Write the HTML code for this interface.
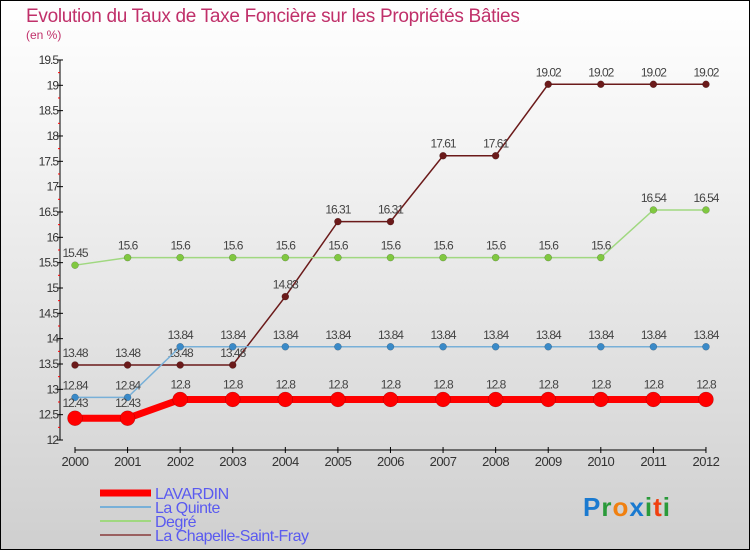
<!DOCTYPE html>
<html><head><meta charset="utf-8"><style>
body{margin:0}
#c{width:750px;height:550px;position:relative;box-sizing:border-box;border:1px solid #000;background:linear-gradient(#fff,#f2f2f2 30%,#cfcfcf);font-family:"Liberation Sans",sans-serif;overflow:hidden}
</style></head><body>
<div id="c">
<svg id="s" width="750" height="550" style="position:absolute;left:-1px;top:-1px"></svg>
</div>
<script>
const years=["2000","2001","2002","2003","2004","2005","2006","2007","2008","2009","2010","2011","2012"];
const lavardin=[12.43,12.43,12.8,12.8,12.8,12.8,12.8,12.8,12.8,12.8,12.8,12.8,12.8];
const quinte=[12.84,12.84,13.84,13.84,13.84,13.84,13.84,13.84,13.84,13.84,13.84,13.84,13.84];
const degre=[15.45,15.6,15.6,15.6,15.6,15.6,15.6,15.6,15.6,15.6,15.6,16.54,16.54];
const chapelle=[13.48,13.48,13.48,13.48,14.83,16.31,16.31,17.61,17.61,19.02,19.02,19.02,19.02];
const yTicks=[12,12.5,13,13.5,14,14.5,15,15.5,16,16.5,17,17.5,18,18.5,19,19.5];
const legendNames=["LAVARDIN","La Quinte","Degré","La Chapelle-Saint-Fray"];
const s=document.getElementById('s');const NS="http://www.w3.org/2000/svg";
function el(t,a,p){const e=document.createElementNS(NS,t);for(const k in a)e.setAttribute(k,a[k]);(p||s).appendChild(e);return e;}
const X=i=>75+i*52.58, Y=v=>440-(v-12)*50.67;
let t=el('text',{x:26,y:22,fill:'#c0306a','font-size':19,'letter-spacing':'-0.3'});t.textContent="Evolution du Taux de Taxe Foncière sur les Propriétés Bâties";

t=el('text',{x:26,y:39,fill:'#c0306a','font-size':12});t.textContent="(en %)";

let a=el('line',{x1:60,y1:60,x2:60,y2:440,stroke:'#000'});
yTicks.forEach((v,i)=>{el('line',{x1:57,x2:63,y1:Y(v),y2:Y(v),stroke:'#000'});
 if(i<yTicks.length-1)el('line',{x1:58,x2:60,y1:Y(v+0.25),y2:Y(v+0.25),stroke:'#f00'});
 const tt=el('text',{x:58,y:Y(v)+4,'text-anchor':'end','font-size':12,fill:'#333','letter-spacing':'-1'});tt.textContent=v;
 });
a=el('line',{x1:75,y1:450,x2:X(12),y2:450,stroke:'#000'});
years.forEach((y,i)=>{el('line',{x1:X(i),x2:X(i),y1:447,y2:453,stroke:'#000'});
 const tt=el('text',{x:X(i),y:466,'text-anchor':'middle','font-size':13,fill:'#333','letter-spacing':'-0.5'});tt.textContent=y;
 });
const series=[[chapelle,'#6b1a1a','#6b1a1a',1.5,3.5,'chapelle'],[degre,'#a0d880','#80c840',1.5,3.5,'degre'],[quinte,'#78b0d8','#3a8ac8',1.5,3.5,'la-quinte'],[lavardin,'#f00','#f00',7,7.5,'lavardin']];
series.forEach(([d,lc,pc,w,r,n])=>{
 const g=el('g',{});
 el('polyline',{points:d.map((v,i)=>X(i)+','+Y(v)).join(' '),fill:'none',stroke:lc,'stroke-width':w},g);
 d.forEach((v,i)=>{const c=el('circle',{cx:X(i),cy:Y(v),r:r,fill:pc,stroke:'rgba(0,0,0,0.3)','stroke-width':0.5},g);
  
  const tt=el('text',{x:X(i),y:Y(v)-(n=='lavardin'?11:8),'text-anchor':'middle','font-size':12,fill:'#444','letter-spacing':'-1'},g);tt.textContent=v;
  });
});
const lc=['#f00','#78b0d8','#a0d880','#9a6060'],lw=[7,2,2,2];
legendNames.forEach((nm,i)=>{const yy=493+i*14;
 const g=el('g',{});
 el('line',{x1:100,x2:151,y1:yy,y2:yy,stroke:lc[i],'stroke-width':lw[i]},g);
 const tt=el('text',{x:155,y:yy+6,'font-size':16,fill:'#5a5af0','letter-spacing':'-0.5'},g);tt.textContent=nm;});
const lg=el('text',{x:583,y:516,'font-size':26,'font-weight':'bold','letter-spacing':'1'});
[['P','#1a7ad0'],['r','#2a9a3a'],['o','#f08010'],['x','#1a7ad0'],['i','#2a9a3a'],['t','#f04010'],['i','#2a9a3a']].forEach(([c,f])=>{const sp=el('tspan',{fill:f},lg);sp.textContent=c;});
</script>
</body></html>
